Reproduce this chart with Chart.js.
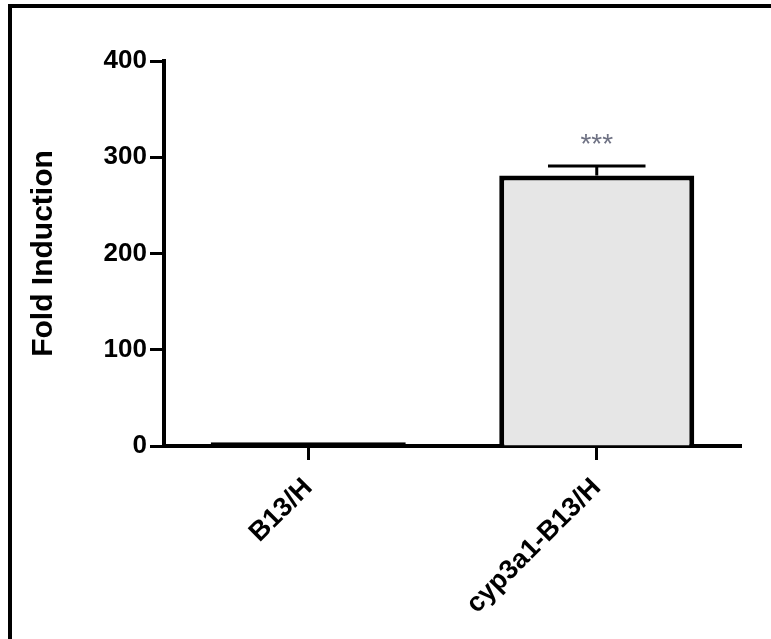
<!DOCTYPE html>
<html>
<head>
<meta charset="utf-8">
<script src="https://cdn.jsdelivr.net/npm/chart.js@4.4.1/dist/chart.umd.min.js"></script>
<style>
  html, body { margin: 0; padding: 0; background: #ffffff; }
  canvas { display: block; }
</style>
</head>
<body>
<canvas id="c" width="771" height="639"></canvas>
<script>
// ---- data ----
const categories = ["B13/H", "cyp3a1-B13/H"];
const foldInduction = [4, 281];
const errorSEM = [0, 10];
const significance = ["", "***"];
const yTicks = [0, 100, 200, 300, 400];
const yTitle = "Fold Induction";

const FONT = "'Liberation Sans', Arial, sans-serif";

const framePlugin = {
  id: 'frame',
  beforeDraw(chart) {
    const ctx = chart.ctx;
    ctx.save();
    ctx.fillStyle = '#ffffff';
    ctx.fillRect(0, 0, chart.width, chart.height);
    ctx.fillStyle = '#000000';
    ctx.fillRect(8, 4, chart.width - 8, 4);
    ctx.fillRect(8, 4, 4, chart.height - 4);
    ctx.restore();
  }
};

const errorPlugin = {
  id: 'errorBars',
  afterDatasetsDraw(chart) {
    const ctx = chart.ctx;
    const meta = chart.getDatasetMeta(0);
    const y = chart.scales.y;
    ctx.save();
    meta.data.forEach((bar, i) => {
      const err = errorSEM[i];
      const val = foldInduction[i];
      const x = bar.x;
      const half = bar.width * 0.25;
      if (err > 0) {
        const yTop = y.getPixelForValue(val + err);
        const yVal = y.getPixelForValue(val);
        ctx.strokeStyle = '#000000';
        ctx.lineWidth = 3;
        ctx.beginPath();
        ctx.moveTo(x, yVal);
        ctx.lineTo(x, yTop);
        ctx.moveTo(x - half, yTop);
        ctx.lineTo(x + half, yTop);
        ctx.stroke();
      }
      if (significance[i]) {
        const yTop = y.getPixelForValue(val + err);
        ctx.fillStyle = '#6f7284';
        ctx.font = "28px " + FONT;
        ctx.textAlign = 'center';
        ctx.textBaseline = 'alphabetic';
        ctx.fillText(significance[i], x, yTop - 13);
      }
    });
    ctx.restore();
  }
};

new Chart(document.getElementById('c'), {
  type: 'bar',
  data: {
    labels: categories,
    datasets: [{
      data: foldInduction,
      backgroundColor: '#e6e6e6',
      borderColor: '#000000',
      borderWidth: 5,
      borderSkipped: (c) => (c.dataIndex === 0 ? false : 'start'),
      categoryPercentage: 1.0,
      barPercentage: 0.676
    }]
  },
  options: {
    responsive: false,
    animation: false,
    devicePixelRatio: 1,
    layout: { padding: { top: 61, right: 30, bottom: 0, left: 0 } },
    plugins: {
      legend: { display: false },
      tooltip: { enabled: false },
      title: { display: false }
    },
    scales: {
      x: {
        offset: true,
        grid: {
          offset: false,
          drawOnChartArea: false,
          drawTicks: true,
          tickLength: 14,
          tickWidth: 3,
          tickColor: '#000000'
        },
        border: { display: true, color: '#000000', width: 4 },
        ticks: {
          autoSkip: false,
          maxRotation: 45,
          minRotation: 45,
          padding: 12,
          color: '#000000',
          font: { family: FONT, size: 27, weight: 'bold' }
        },
        afterFit(scale) { scale.height = 193; }
      },
      y: {
        min: 0,
        max: 400,
        afterBuildTicks(scale) { scale.ticks = yTicks.map(v => ({ value: v })); },
        grid: {
          drawOnChartArea: false,
          drawTicks: true,
          tickLength: 14,
          tickWidth: 3,
          tickColor: '#000000'
        },
        border: { display: true, color: '#000000', width: 4 },
        ticks: {
          padding: 3,
          color: '#000000',
          font: { family: FONT, size: 26, weight: 'bold' }
        },
        title: {
          display: true,
          text: yTitle,
          color: '#000000',
          padding: { top: 26, bottom: 0 },
          font: { family: FONT, size: 30, weight: 'bold' }
        },
        afterFit(scale) { scale.width = 164; }
      }
    }
  },
  plugins: [framePlugin, errorPlugin]
});
</script>
</body>
</html>
